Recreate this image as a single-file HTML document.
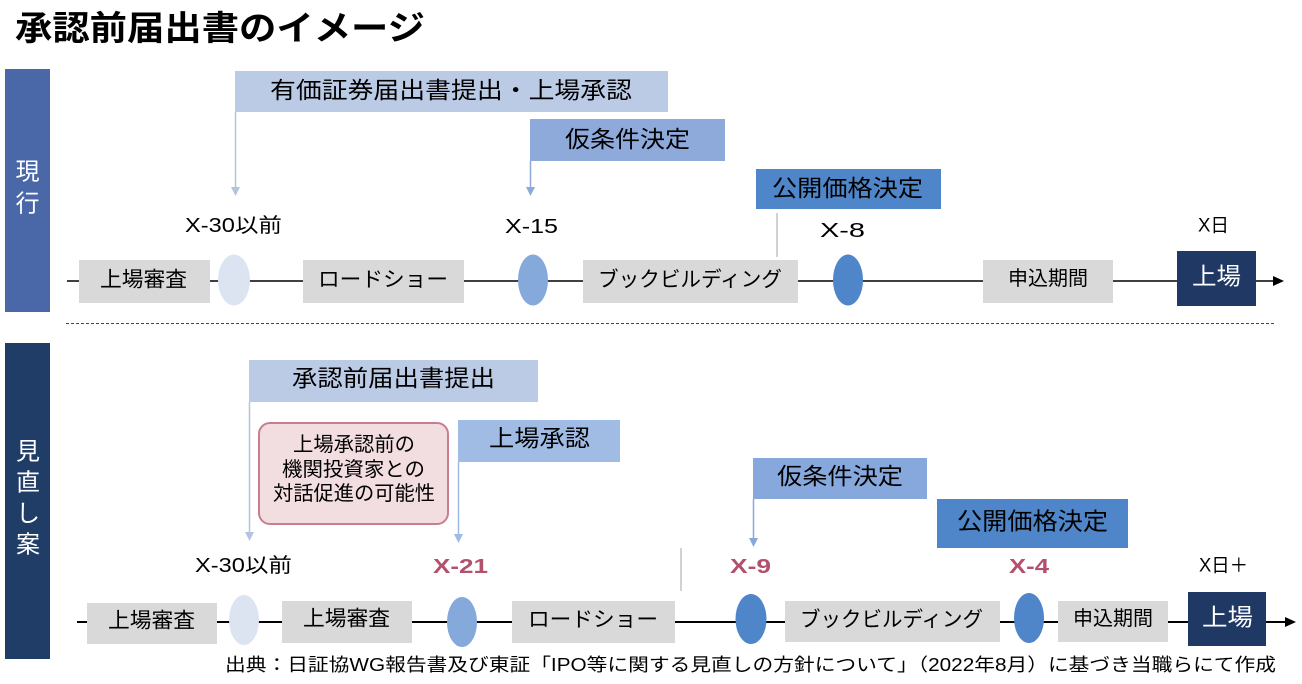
<!DOCTYPE html>
<html><head><meta charset="utf-8"><style>
html,body{margin:0;padding:0;background:#fff;}
svg{display:block;}
text{font-family:"Liberation Sans","Noto Sans CJK JP",sans-serif;dominant-baseline:central;}
</style></head><body>
<svg width="1302" height="684" viewBox="0 0 1302 684" xmlns="http://www.w3.org/2000/svg">
<rect width="1302" height="684" fill="#fff"/>
<!-- Title -->
<text x="15" y="29" font-size="34" font-weight="bold" fill="#000" textLength="410" lengthAdjust="spacingAndGlyphs">承認前届出書のイメージ</text>

<!-- ===== Top section ===== -->
<rect x="5" y="69" width="45" height="243" fill="#4a68a8"/>
<text x="27.5" y="172" font-size="24" fill="#fff" text-anchor="middle">現</text>
<text x="27.5" y="204" font-size="24" fill="#fff" text-anchor="middle">行</text>

<!-- callout boxes -->
<rect x="235" y="71" width="433" height="41" fill="#bccbe5"/>
<text x="270" y="90" font-size="23" fill="#000" textLength="362" lengthAdjust="spacingAndGlyphs">有価証券届出書提出・上場承認</text>
<line x1="235.5" y1="112" x2="235.5" y2="188" stroke="#b4c4df" stroke-width="1.5"/>
<polygon points="231,187 240,187 235.5,196" fill="#b4c4df"/>

<rect x="530" y="119" width="195" height="42" fill="#8eaadb"/>
<text x="565" y="139" font-size="23" fill="#000" textLength="125" lengthAdjust="spacingAndGlyphs">仮条件決定</text>
<line x1="530.5" y1="161" x2="530.5" y2="188" stroke="#8eaadb" stroke-width="1.5"/>
<polygon points="526,187 535,187 530.5,196" fill="#8eaadb"/>

<rect x="756" y="169" width="185" height="40" fill="#4f86c9"/>
<text x="772" y="188" font-size="23" fill="#000" textLength="151" lengthAdjust="spacingAndGlyphs">公開価格決定</text>
<line x1="777" y1="213" x2="777" y2="257" stroke="#a6a6a6" stroke-width="1"/>

<!-- labels -->
<text x="185" y="226" font-size="20" fill="#000" textLength="97" lengthAdjust="spacingAndGlyphs">X-30以前</text>
<text x="505" y="227" font-size="20" fill="#000" textLength="53" lengthAdjust="spacingAndGlyphs">X-15</text>
<text x="820" y="231" font-size="20" fill="#000" textLength="45" lengthAdjust="spacingAndGlyphs">X-8</text>
<text x="1198" y="226" font-size="19" fill="#000" textLength="31" lengthAdjust="spacingAndGlyphs">X日</text>

<!-- timeline -->
<line x1="67" y1="281" x2="1274" y2="281" stroke="#000" stroke-width="1.6"/>
<polygon points="1273,276 1284,281 1273,286" fill="#000"/>

<rect x="79" y="260" width="131" height="43" fill="#d9d9d9"/>
<text x="100" y="280" font-size="21" fill="#000" textLength="87" lengthAdjust="spacingAndGlyphs">上場審査</text>
<ellipse cx="234" cy="280" rx="16" ry="25.5" fill="#dde4f1"/>
<rect x="303" y="260" width="161" height="43" fill="#d9d9d9"/>
<text x="318" y="280" font-size="21" fill="#000" textLength="130" lengthAdjust="spacingAndGlyphs">ロードショー</text>
<ellipse cx="533" cy="280" rx="15" ry="25.5" fill="#86a9dc"/>
<rect x="583" y="260" width="215" height="43" fill="#d9d9d9"/>
<text x="598" y="280" font-size="21" fill="#000" textLength="184" lengthAdjust="spacingAndGlyphs">ブックビルディング</text>
<ellipse cx="848" cy="280" rx="15" ry="25.5" fill="#4f86c9"/>
<rect x="983" y="260" width="130" height="43" fill="#d9d9d9"/>
<text x="1008" y="279" font-size="20" fill="#000" textLength="80" lengthAdjust="spacingAndGlyphs">申込期間</text>
<rect x="1177" y="251" width="79" height="55" fill="#1f3864"/>
<text x="1192" y="277" font-size="24" fill="#fff" textLength="49" lengthAdjust="spacingAndGlyphs">上場</text>

<!-- separator -->
<line x1="66" y1="323.5" x2="1275" y2="323.5" stroke="#444" stroke-width="1" stroke-dasharray="3,2"/>

<!-- ===== Bottom section ===== -->
<rect x="5" y="343" width="45" height="316" fill="#1f3d66"/>
<text x="28" y="452" font-size="24" fill="#fff" text-anchor="middle">見</text>
<text x="28" y="483" font-size="24" fill="#fff" text-anchor="middle">直</text>
<text x="28" y="514" font-size="24" fill="#fff" text-anchor="middle">し</text>
<text x="28" y="545" font-size="24" fill="#fff" text-anchor="middle">案</text>

<rect x="249" y="360" width="289" height="42" fill="#bccbe5"/>
<text x="292" y="378" font-size="23" fill="#000" textLength="203" lengthAdjust="spacingAndGlyphs">承認前届出書提出</text>
<line x1="249.5" y1="402" x2="249.5" y2="533" stroke="#b4c4df" stroke-width="1.5"/>
<polygon points="245,532 254,532 249.5,541" fill="#b4c4df"/>

<rect x="259" y="423" width="189" height="101" rx="11" ry="11" fill="#f2dde1" stroke="#c97d8e" stroke-width="2"/>
<text x="293" y="445" font-size="20" fill="#000" textLength="122" lengthAdjust="spacingAndGlyphs">上場承認前の</text>
<text x="282" y="470" font-size="20" fill="#000" textLength="143" lengthAdjust="spacingAndGlyphs">機関投資家との</text>
<text x="273" y="494" font-size="20" fill="#000" textLength="162" lengthAdjust="spacingAndGlyphs">対話促進の可能性</text>

<rect x="458" y="420" width="162" height="42" fill="#a0bce4"/>
<text x="489" y="438" font-size="23" fill="#000" textLength="101" lengthAdjust="spacingAndGlyphs">上場承認</text>
<line x1="458.5" y1="462" x2="458.5" y2="535" stroke="#9dbbe3" stroke-width="1.5"/>
<polygon points="454,534 463,534 458.5,543" fill="#9dbbe3"/>

<rect x="753" y="458" width="174" height="41" fill="#87a8dc"/>
<text x="777" y="476" font-size="23" fill="#000" textLength="126" lengthAdjust="spacingAndGlyphs">仮条件決定</text>
<line x1="753.5" y1="499" x2="753.5" y2="539" stroke="#87a8dc" stroke-width="1.5"/>
<polygon points="749,538 758,538 753.5,547" fill="#87a8dc"/>

<rect x="937" y="499" width="191" height="49" fill="#4f86c9"/>
<text x="957" y="522" font-size="24" fill="#000" textLength="151" lengthAdjust="spacingAndGlyphs">公開価格決定</text>
<line x1="681" y1="548" x2="681" y2="591" stroke="#a6a6a6" stroke-width="1"/>

<!-- labels -->
<text x="195" y="566" font-size="20" fill="#000" textLength="97" lengthAdjust="spacingAndGlyphs">X-30以前</text>
<text x="433" y="567" font-size="20" font-weight="bold" fill="#b2506d" textLength="55" lengthAdjust="spacingAndGlyphs">X-21</text>
<text x="730" y="567" font-size="20" font-weight="bold" fill="#b2506d" textLength="41" lengthAdjust="spacingAndGlyphs">X-9</text>
<text x="1009" y="567" font-size="20" font-weight="bold" fill="#b2506d" textLength="40" lengthAdjust="spacingAndGlyphs">X-4</text>
<text x="1199" y="566" font-size="19" fill="#000" textLength="49" lengthAdjust="spacingAndGlyphs">X日＋</text>

<!-- timeline -->
<line x1="77" y1="622" x2="1286" y2="622" stroke="#000" stroke-width="2"/>
<polygon points="1285,617 1296,622 1285,627" fill="#000"/>

<rect x="87" y="603" width="130" height="41" fill="#d9d9d9"/>
<text x="108" y="621" font-size="21" fill="#000" textLength="87" lengthAdjust="spacingAndGlyphs">上場審査</text>
<ellipse cx="244" cy="620" rx="15" ry="25" fill="#dde4f1"/>
<rect x="282" y="601" width="130" height="42" fill="#d9d9d9"/>
<text x="303" y="619" font-size="21" fill="#000" textLength="87" lengthAdjust="spacingAndGlyphs">上場審査</text>
<ellipse cx="462" cy="622" rx="15" ry="25" fill="#86a9dc"/>
<rect x="512" y="601" width="163" height="42" fill="#d9d9d9"/>
<text x="528" y="620" font-size="21" fill="#000" textLength="130" lengthAdjust="spacingAndGlyphs">ロードショー</text>
<ellipse cx="751" cy="619" rx="15.5" ry="25" fill="#4f86c9"/>
<rect x="785" y="601" width="215" height="41" fill="#d9d9d9"/>
<text x="800" y="620" font-size="21" fill="#000" textLength="183" lengthAdjust="spacingAndGlyphs">ブックビルディング</text>
<ellipse cx="1029" cy="618" rx="15" ry="25" fill="#4f86c9"/>
<rect x="1058" y="601" width="110" height="41" fill="#d9d9d9"/>
<text x="1073" y="619" font-size="20" fill="#000" textLength="80" lengthAdjust="spacingAndGlyphs">申込期間</text>
<rect x="1188" y="592" width="78" height="54" fill="#1f3864"/>
<text x="1202" y="618" font-size="24" fill="#fff" textLength="51" lengthAdjust="spacingAndGlyphs">上場</text>

<!-- caption -->
<text x="225" y="665" font-size="18" fill="#000" textLength="1051" lengthAdjust="spacingAndGlyphs">出典：日証協WG報告書及び東証「IPO等に関する見直しの方針について」（2022年8月）に基づき当職らにて作成</text>
</svg>
</body></html>
